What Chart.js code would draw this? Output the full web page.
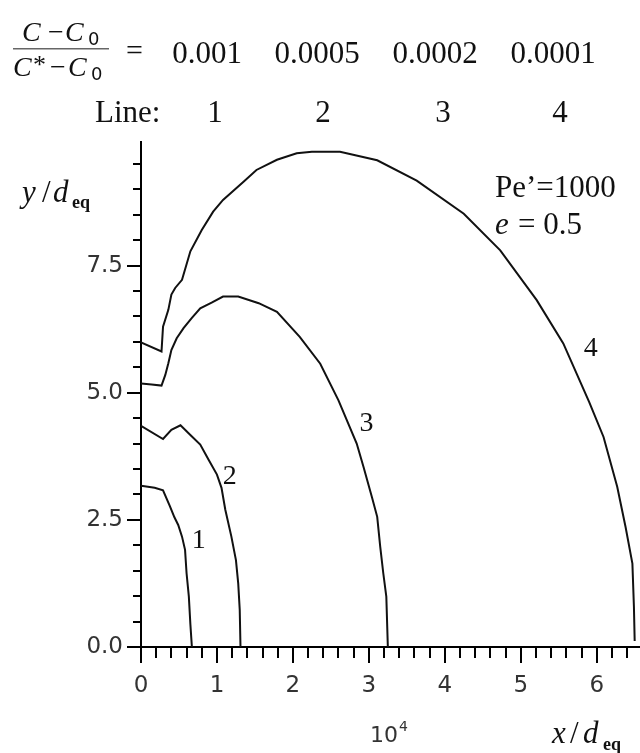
<!DOCTYPE html>
<html>
<head>
<meta charset="utf-8">
<script src="https://cdn.jsdelivr.net/npm/chart.js@4.4.0/dist/chart.umd.min.js"></script>
<style>
  body { margin: 0; background: #fff; }
  #wrap { width: 640px; height: 753px; }
</style>
</head>
<body>
<div id="wrap"><canvas id="contour-chart" width="640" height="753"></canvas></div>
<script>
// x in units of 10^4 (x/d_eq), y = y/d_eq
const line1X = [0, 0.18, 0.29, 0.38, 0.44, 0.49, 0.54, 0.58, 0.60, 0.63, 0.65, 0.67];
const line1Y = [3.17, 3.13, 3.08, 2.77, 2.55, 2.40, 2.17, 1.91, 1.45, 0.99, 0.45, 0];

const line2X = [0, 0.29, 0.40, 0.52, 0.65, 0.78, 0.89, 1.00, 1.06, 1.11, 1.19, 1.25, 1.28, 1.30, 1.31];
const line2Y = [4.35, 4.09, 4.27, 4.36, 4.17, 3.98, 3.68, 3.39, 3.13, 2.70, 2.17, 1.71, 1.25, 0.73, 0];

const line3X = [0, 0.14, 0.27, 0.32, 0.36, 0.40, 0.47, 0.56, 0.67, 0.78, 0.93, 1.08, 1.28, 1.55, 1.79, 2.09, 2.36, 2.60, 2.84, 2.93, 3.04, 3.11, 3.15, 3.19, 3.23, 3.25];
const line3Y = [5.18, 5.16, 5.14, 5.35, 5.58, 5.84, 6.07, 6.27, 6.47, 6.66, 6.77, 6.89, 6.89, 6.76, 6.59, 6.10, 5.57, 4.85, 4.00, 3.54, 2.95, 2.56, 1.97, 1.45, 0.99, 0];

const line4X = [0, 0.27, 0.29, 0.36, 0.40, 0.45, 0.54, 0.65, 0.80, 0.95, 1.08, 1.35, 1.52, 1.79, 2.05, 2.25, 2.49, 2.62, 3.11, 3.63, 4.25, 4.73, 5.21, 5.56, 5.90, 6.09, 6.27, 6.38, 6.47, 6.49, 6.50];
const line4Y = [5.99, 5.81, 6.30, 6.63, 6.93, 7.06, 7.22, 7.78, 8.20, 8.56, 8.79, 9.15, 9.38, 9.58, 9.71, 9.74, 9.74, 9.74, 9.57, 9.17, 8.52, 7.80, 6.82, 5.97, 4.82, 4.13, 3.15, 2.36, 1.64, 0.79, 0.12];

const ratioValues = ['0.001', '0.0005', '0.0002', '0.0001'];
const lineNames = ['1', '2', '3', '4'];
// where each curve number sits, in data units
const lineLabelX = [0.76, 1.17, 2.97, 5.92];
const lineLabelY = [2.09, 3.35, 4.39, 5.86];

const xMin = 0, xMax = 6.57, xStep = 0.2;
const yMin = 0, yMax = 9.93, yStep = 0.5;

const isWhole = (v, step) => Math.abs(v / step - Math.round(v / step)) < 1e-6;

function toPoints(xs, ys) {
  return xs.map((x, i) => ({ x: x, y: ys[i] }));
}

const serif = '"Liberation Serif", "Times New Roman", serif';
const sans = '"DejaVu Sans", sans-serif';

function txt(ctx, s, x, y, font, align) {
  ctx.font = font;
  ctx.textAlign = align || 'left';
  ctx.fillText(s, x, y);
}

const decorations = {
  id: 'decorations',
  afterDraw(chart) {
    const ctx = chart.ctx;
    const sx = chart.scales.x, sy = chart.scales.y;
    ctx.save();

    // tick marks
    ctx.strokeStyle = '#000';
    ctx.lineWidth = 2;
    ctx.beginPath();
    sx.ticks.forEach(t => {
      const px = Math.round(sx.getPixelForValue(t.value));
      const len = isWhole(t.value, 1) ? 16 : 11;
      ctx.moveTo(px, sx.top);
      ctx.lineTo(px, sx.top + len);
    });
    sy.ticks.forEach(t => {
      const py = Math.round(sy.getPixelForValue(t.value));
      const len = isWhole(t.value, 2.5) ? 14 : 8;
      ctx.moveTo(sy.right, py);
      ctx.lineTo(sy.right - len, py);
    });
    ctx.stroke();

    ctx.fillStyle = '#111';
    ctx.textBaseline = 'alphabetic';

    // fraction (C - C0)/(C* - C0)
    txt(ctx, 'C', 22, 41, 'italic 28px ' + serif);
    txt(ctx, '\u2212', 48, 41, '28px ' + serif);
    txt(ctx, 'C', 65, 41, 'italic 28px ' + serif);
    txt(ctx, '0', 88, 45, '18px ' + sans);
    ctx.fillStyle = '#666';
    ctx.fillRect(13, 48, 96, 1.5);
    ctx.fillStyle = '#111';
    txt(ctx, 'C', 13, 76, 'italic 28px ' + serif);
    txt(ctx, '*', 33, 73, '26px ' + serif);
    txt(ctx, '\u2212', 50, 76, '28px ' + serif);
    txt(ctx, 'C', 68, 76, 'italic 28px ' + serif);
    txt(ctx, '0', 91, 80, '18px ' + sans);
    txt(ctx, '=', 126, 60, '30px ' + serif);

    const valueCenters = [207, 317, 435, 553];
    ratioValues.forEach((v, i) => txt(ctx, v, valueCenters[i], 63, '31px ' + serif, 'center'));

    txt(ctx, 'Line:', 95, 122, '31px ' + serif);
    const nameCenters = [215, 323, 443, 560];
    lineNames.forEach((v, i) => txt(ctx, v, nameCenters[i], 122, '31px ' + serif, 'center'));

    // curve numbers
    ctx.textBaseline = 'middle';
    lineNames.forEach((v, i) => {
      txt(ctx, v, sx.getPixelForValue(lineLabelX[i]), sy.getPixelForValue(lineLabelY[i]), '28px ' + serif, 'center');
    });
    ctx.textBaseline = 'alphabetic';

    // parameters
    txt(ctx, 'Pe\u2019=1000', 495, 197, '31px ' + serif);
    txt(ctx, 'e', 495, 234, 'italic 31px ' + serif);
    txt(ctx, '= 0.5', 518, 234, '31px ' + serif);

    // axis titles
    txt(ctx, 'y', 22, 202, 'italic 31px ' + serif);
    txt(ctx, '/', 42, 202, '31px ' + serif);
    txt(ctx, 'd', 53, 202, 'italic 31px ' + serif);
    txt(ctx, 'eq', 72, 208, 'bold 18px ' + serif);

    txt(ctx, 'x', 552, 743, 'italic 31px ' + serif);
    txt(ctx, '/', 570, 743, '31px ' + serif);
    txt(ctx, 'd', 583, 743, 'italic 31px ' + serif);
    txt(ctx, 'eq', 603, 750, 'bold 18px ' + serif);

    ctx.fillStyle = '#333';
    txt(ctx, '10', 370, 742, '22px ' + sans);
    txt(ctx, '4', 399, 731, '14px ' + sans);

    ctx.restore();
  }
};

const lineStyle = { borderColor: '#111', borderWidth: 2, pointRadius: 0, showLine: true, tension: 0, fill: false };

new Chart(document.getElementById('contour-chart'), {
  type: 'scatter',
  data: {
    datasets: [
      Object.assign({ label: 'Line 1', data: toPoints(line1X, line1Y) }, lineStyle),
      Object.assign({ label: 'Line 2', data: toPoints(line2X, line2Y) }, lineStyle),
      Object.assign({ label: 'Line 3', data: toPoints(line3X, line3Y) }, lineStyle),
      Object.assign({ label: 'Line 4', data: toPoints(line4X, line4Y) }, lineStyle),
    ],
  },
  options: {
    responsive: false,
    animation: false,
    layout: { padding: { top: 142, left: 0, right: 0, bottom: 0 } },
    scales: {
      x: {
        type: 'linear',
        min: xMin,
        max: xMax,
        grid: { display: false, drawTicks: false },
        border: { display: true, color: '#000', width: 2 },
        ticks: {
          stepSize: xStep,
          includeBounds: false,
          autoSkip: false,
          maxRotation: 0,
          padding: 25,
          color: '#333',
          font: { family: 'DejaVu Sans', size: 23 },
          callback: (v) => isWhole(v, 1) ? String(Math.round(v)) : '',
        },
        afterFit: (scale) => {
          scale.height = 106;
          scale.paddingLeft = 0;
          scale.paddingRight = 0;
        },
      },
      y: {
        type: 'linear',
        min: yMin,
        max: yMax,
        grid: { display: false, drawTicks: false },
        border: { display: true, color: '#000', width: 2 },
        ticks: {
          stepSize: yStep,
          includeBounds: false,
          autoSkip: false,
          padding: 18,
          color: '#333',
          font: { family: 'DejaVu Sans', size: 23 },
          callback: (v) => isWhole(v, 2.5) ? v.toFixed(1) : '',
        },
        afterFit: (scale) => {
          scale.width = 141;
          scale.paddingTop = 0;
          scale.paddingBottom = 0;
        },
      },
    },
    plugins: {
      legend: { display: false },
      tooltip: { enabled: false },
    },
  },
  plugins: [decorations],
});
</script>
</body>
</html>
